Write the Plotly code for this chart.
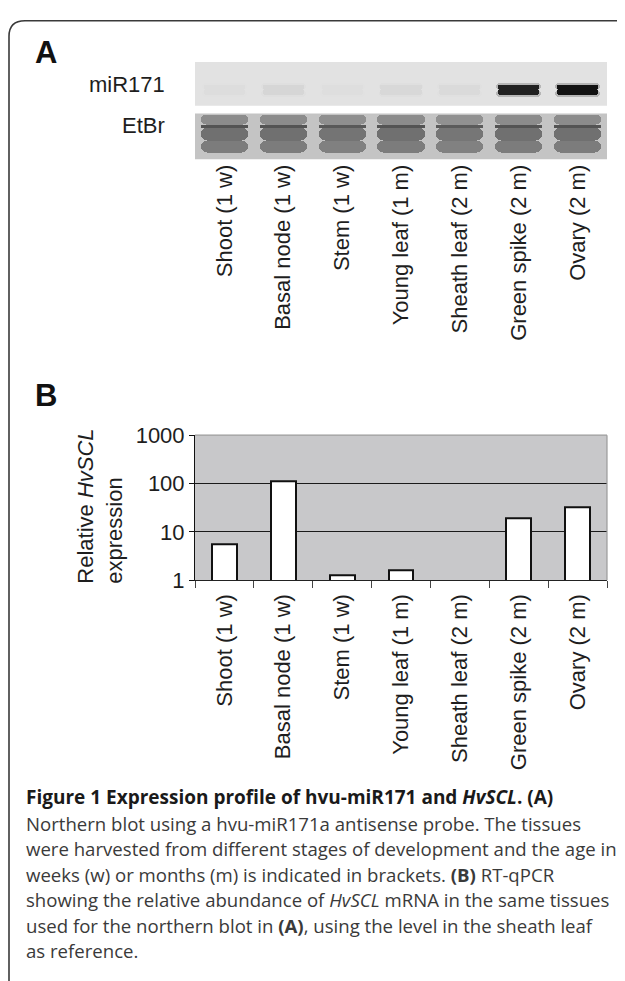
import plotly.graph_objects as go

# ---------------- data ----------------
tissues = ["Shoot (1 w)", "Basal node (1 w)", "Stem (1 w)", "Young leaf (1 m)",
           "Sheath leaf (2 m)", "Green spike (2 m)", "Ovary (2 m)"]
hvscl_expression = [5.7, 112, 1.29, 1.62, 1.0, 19.0, 32.5]   # relative to sheath leaf
mir171_signal = [0.025, 0.06, 0.02, 0.05, 0.04, 0.93, 1.0]    # northern band intensity
etbr_signal = [1.0, 1.0, 0.97, 1.0, 0.96, 1.0, 1.0]           # loading control intensity
y_tickvals = [1, 10, 100, 1000]
y_ticktext = ["1", "10", "100", "1000"]

# ---------------- helpers ----------------
W, H = 625, 981
OFF = 8  # page body margin: reference positions are page positions


def px(x):
    return (x - OFF) / W


def py(y):
    return 1 - (y - OFF) / H


def gray(v, a=1.0):
    v = int(round(max(0, min(255, v))))
    return f"rgba({v},{v},{v},{a})"


ARIAL = "Liberation Sans, Arial, sans-serif"
CAP = "Open Sans, sans-serif"
TXT = "#1e1e1e"

x_dom = [px(195), px(607)]
dom_B = [py(583), py(434)]
dom_mir = [py(96), py(51)]
dom_etbr = [py(151), py(104)]

fig = go.Figure()

# ---------------- panel A : miR171 northern strip ----------------
bg_mir = 226
band_c = 0.36      # band centre (fraction of strip height)
band_h = 0.23
for kind in ("halo", "core"):
    cols = []
    for s in mir171_signal:
        v = bg_mir - (bg_mir - 18) * s
        cols.append(gray(v, 0.22 if kind == "halo" else 1.0))
    hh = band_h * (1.35 if kind == "halo" else 1.0)
    wd = 0.76 if kind == "halo" else 0.70
    for sign in (1, -1):
        fig.add_trace(go.Bar(
            x=tissues, y=[sign * hh / 2] * len(tissues), base=[band_c] * len(tissues),
            width=wd, marker=dict(color=cols, line=dict(width=0), cornerradius=6),
            xaxis="x2", yaxis="y2", showlegend=False, hoverinfo="skip"))

# ---------------- panel A : EtBr strip ----------------
segments = [
    (0.40, -0.26, 124),  # lower zone (rounded bottom)
    (0.40, 0.30, 112),   # middle zone
    (0.70, 0.05, 84),    # dark rRNA line
    (0.75, 0.23, 140),   # upper zone (rounded top)
]
for base, h, g in segments:
    cols = [gray(255 - (255 - g) * s) for s in etbr_signal]
    fig.add_trace(go.Bar(
        x=tissues, y=[h] * len(tissues), base=[base] * len(tissues), width=0.80,
        marker=dict(color=cols, line=dict(width=0),
                    cornerradius=7 if abs(h) > 0.1 else 0),
        xaxis="x3", yaxis="y3", showlegend=False, hoverinfo="skip"))

# ---------------- panel B : RT-qPCR bars ----------------
fig.add_trace(go.Bar(
    x=tissues, y=hvscl_expression, width=0.42,
    marker=dict(color="white",
                line=dict(color="#111111", width=[2 if v > 1 else 0 for v in hvscl_expression])),
    xaxis="x", yaxis="y", showlegend=False))

# ---------------- axes ----------------
common_x = dict(domain=x_dom, type="category", categoryorder="array",
                categoryarray=tissues, range=[-0.5, 6.5], fixedrange=True)

fig.update_layout(
    width=W, height=H, margin=dict(l=0, r=0, t=0, b=0),
    paper_bgcolor="white", plot_bgcolor="rgba(0,0,0,0)",
    barmode="overlay", bargap=0,
    xaxis=dict(**common_x, anchor="y", showline=True, linecolor="#222", linewidth=1,
               ticks="outside", tickson="boundaries", ticklen=7, tickcolor="#444",
               tickangle=-90, tickfont=dict(family=ARIAL, size=22, color=TXT),
               ticklabelstandoff=4, showgrid=False),
    yaxis=dict(domain=dom_B, anchor="x", type="log", range=[0, 3],
               tickvals=y_tickvals, ticktext=y_ticktext,
               showline=True, linecolor="#111", linewidth=1,
               ticks="outside", ticklen=5, tickcolor="#111",
               tickfont=dict(family=ARIAL, size=22, color=TXT),
               showgrid=True, gridcolor="#1a1a1a", gridwidth=1, zeroline=False),
    xaxis2=dict(**common_x, anchor="y2", showticklabels=False, ticks="",
                showgrid=False, showline=False, zeroline=False),
    yaxis2=dict(domain=dom_mir, anchor="x2", range=[0, 1], visible=False),
    xaxis3=dict(**common_x, anchor="y3", ticks="", showgrid=False, showline=False,
                tickangle=-90, tickfont=dict(family=ARIAL, size=22, color=TXT),
                ticklabelstandoff=0),
    yaxis3=dict(domain=dom_etbr, anchor="x3", range=[0, 1], visible=False),
)

# ---------------- backgrounds / frame ----------------
shapes = [
    dict(type="rect", xref="x domain", yref="y domain", x0=0, x1=1, y0=0, y1=1,
         fillcolor="#c8c8ca", line=dict(width=0), layer="below"),
    dict(type="line", xref="x domain", yref="y domain", x0=0, x1=1, y0=1, y1=1,
         line=dict(color="#9a9a9a", width=1.2), layer="above"),
    dict(type="line", xref="x domain", yref="y domain", x0=1, x1=1, y0=0, y1=1,
         line=dict(color="#9a9a9a", width=1.2), layer="above"),
    dict(type="rect", xref="x2 domain", yref="y2 domain", x0=0, x1=1, y0=0, y1=1,
         fillcolor=gray(bg_mir), line=dict(width=0), layer="below"),
    dict(type="rect", xref="x3 domain", yref="y3 domain", x0=0, x1=1, y0=0, y1=1,
         fillcolor="#c4c4c4", line=dict(width=0), layer="below"),
]
r = 16
fx, fy = 9, 8.8
frame_path = (f"M {px(fx)},{py(1010)} L {px(fx)},{py(fy + r)} "
              f"Q {px(fx)},{py(fy)} {px(fx + r)},{py(fy)} L {px(660)},{py(fy)}")
shapes.append(dict(type="path", xref="paper", yref="paper", path=frame_path,
                   line=dict(color="#3a3a3a", width=1.6)))
fig.update_layout(shapes=shapes)

# ---------------- annotations ----------------
ann = []
ann.append(dict(text="<b>A</b>", x=px(33), y=py(41), xanchor="left", yanchor="middle",
                font=dict(family=ARIAL, size=31, color="#111")))
ann.append(dict(text="<b>B</b>", x=px(33), y=py(393), xanchor="left", yanchor="middle",
                font=dict(family=ARIAL, size=31, color="#111")))
ann.append(dict(text="miR171", x=px(167), y=py(74), xanchor="right", yanchor="middle",
                font=dict(family=ARIAL, size=22, color=TXT)))
ann.append(dict(text="EtBr", x=px(167), y=py(116), xanchor="right", yanchor="middle",
                font=dict(family=ARIAL, size=22, color=TXT)))
ann.append(dict(text="Relative <i>HvSCL</i><br>expression", textangle=-90, align="left",
                x=px(100), y=py(589), xanchor="center", yanchor="bottom",
                font=dict(family=ARIAL, size=22, color=TXT)))

caption = [
    ("<b>Figure 1 Expression profile of hvu-miR171 and <i>HvSCL</i>. (A)</b>", 805, "#1a1a1a", 19),
    ("Northern blot using a hvu-miR171a antisense probe. The tissues", 832, "#3a3a3a", 18.6),
    ("were harvested from different stages of development and the age in", 858, "#3a3a3a", 18.6),
    ("weeks (w) or months (m) is indicated in brackets. <b>(B)</b> RT-qPCR", 885, "#3a3a3a", 18.6),
    ("showing the relative abundance of <i>HvSCL</i> mRNA in the same tissues", 910, "#3a3a3a", 18.6),
    ("used for the northern blot in <b>(A)</b>, using the level in the sheath leaf", 937, "#3a3a3a", 18.6),
    ("as reference.", 963, "#3a3a3a", 18.6),
]
for txt, yy, col, fs in caption:
    ann.append(dict(text=txt, x=px(24), y=py(yy), xanchor="left", yanchor="middle",
                    font=dict(family=CAP, size=fs, color=col)))

for a in ann:
    a.update(xref="paper", yref="paper", showarrow=False)
fig.update_layout(annotations=ann)

fig.write_html("out.html")
